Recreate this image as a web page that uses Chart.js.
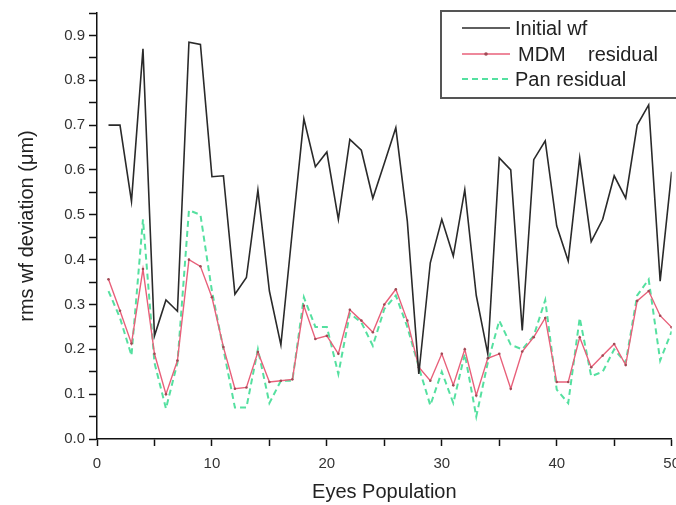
<!DOCTYPE html>
<html>
<head>
<meta charset="utf-8">
<script src="https://cdn.jsdelivr.net/npm/chart.js@4"></script>
<style>
  html, body { margin: 0; padding: 0; background: #fff; overflow: hidden; }
  #wrap { width: 676px; height: 505px; overflow: hidden; }
</style>
</head>
<body>
<div id="wrap"><canvas id="myChart" width="689" height="505"></canvas></div>
<script>
const eyes = [1,2,3,4,5,6,7,8,9,10,11,12,13,14,15,16,17,18,19,20,21,22,23,24,25,
              26,27,28,29,30,31,32,33,34,35,36,37,38,39,40,41,42,43,44,45,46,47,48,49,50];

const initialWf = [0.70,0.70,0.53,0.87,0.23,0.31,0.285,0.885,0.88,0.585,
                   0.587,0.323,0.36,0.555,0.33,0.21,0.465,0.714,0.607,0.64,
                   0.49,0.668,0.644,0.537,0.615,0.694,0.486,0.145,0.393,0.49,
                   0.408,0.556,0.32,0.19,0.627,0.60,0.242,0.623,0.665,0.475,
                   0.397,0.627,0.44,0.49,0.587,0.537,0.70,0.745,0.352,0.596];

const mdmResidual = [0.356,0.286,0.213,0.379,0.19,0.10,0.175,0.40,0.385,0.316,
                     0.205,0.112,0.115,0.194,0.127,0.13,0.133,0.297,0.223,0.23,
                     0.19,0.288,0.264,0.238,0.30,0.334,0.264,0.16,0.13,0.19,
                     0.12,0.20,0.097,0.18,0.19,0.112,0.195,0.227,0.27,0.127,
                     0.127,0.227,0.16,0.186,0.212,0.165,0.308,0.33,0.275,0.249];

const panResidual = [0.33,0.27,0.186,0.49,0.17,0.068,0.17,0.51,0.50,0.33,
                     0.20,0.07,0.07,0.20,0.08,0.13,0.13,0.316,0.25,0.25,
                     0.145,0.28,0.26,0.208,0.29,0.32,0.25,0.16,0.075,0.15,
                     0.08,0.19,0.05,0.17,0.264,0.21,0.20,0.23,0.31,0.11,
                     0.08,0.27,0.14,0.15,0.20,0.17,0.32,0.356,0.175,0.24];

const seriesNames = ['Initial wf', 'MDM    residual', 'Pan residual'];

function pts(vals){
    return eyes.map((e,i)=>({x:e, y:vals[i]}));
}

// boxed legend in the top right corner, drawn from the datasets
const boxLegend = {
    id: 'boxLegend',
    afterDraw(chart){
        const ctx = chart.ctx;
        const bx = 441, by = 11, bw = 250, bh = 87;
        ctx.save();
        ctx.fillStyle = '#fff';
        ctx.fillRect(bx, by, bw, bh);
        ctx.strokeStyle = '#555';
        ctx.lineWidth = 2;
        ctx.strokeRect(bx, by, bw, bh);
        const rows = [28, 54, 79];
        const textX = [515, 518, 515];
        chart.data.datasets.forEach((ds,i)=>{
            const y = rows[i];
            ctx.strokeStyle = ds.borderColor;
            ctx.lineWidth = ds.borderWidth;
            ctx.setLineDash(ds.borderDash || []);
            ctx.beginPath();
            ctx.moveTo(462, y);
            ctx.lineTo(510, y);
            ctx.stroke();
            ctx.setLineDash([]);
            if (ds.pointRadius > 0) {
                ctx.fillStyle = ds.pointBackgroundColor;
                ctx.beginPath();
                ctx.arc(486, y, ds.pointRadius + 0.5, 0, Math.PI*2);
                ctx.fill();
            }
            ctx.fillStyle = '#222';
            ctx.font = '20px "Liberation Sans", Arial, sans-serif';
            ctx.textBaseline = 'middle';
            ctx.fillText(ds.label, textX[i], y + 1);
        });
        ctx.restore();
    }
};

const ctx = document.getElementById('myChart').getContext('2d');
const myChart = new Chart(ctx, {
    type: 'line',
    data: {
        datasets: [{
            label: seriesNames[0],
            data: pts(initialWf),
            borderColor: '#2a2a2a',
            borderWidth: 1.6,
            pointRadius: 0,
            tension: 0
        },{
            label: seriesNames[1],
            data: pts(mdmResidual),
            borderColor: '#e8607a',
            borderWidth: 1.4,
            pointRadius: 1.3,
            pointBackgroundColor: '#a04a55',
            pointBorderWidth: 0,
            tension: 0
        },{
            label: seriesNames[2],
            data: pts(panResidual),
            borderColor: '#55e0a0',
            borderWidth: 2,
            borderDash: [6,4],
            pointRadius: 0,
            tension: 0
        }]
    },
    plugins: [boxLegend],
    options: {
        responsive: false,
        animation: false,
        layout: { padding: { top: 10, left: 0, right: 0, bottom: 0 } },
        plugins: { legend: { display: false }, tooltip: { enabled: false } },
        scales: {
            x: {
                type: 'linear',
                min: 0, max: 50,
                afterFit: s => { s.height = 66; },
                border: { color: '#111', width: 1.5 },
                grid: { drawOnChartArea: false, tickLength: 7, tickColor: '#111', tickWidth: 1.5 },
                ticks: {
                    stepSize: 5,
                    autoSkip: false,
                    maxRotation: 0,
                    padding: 9,
                    color: '#333',
                    font: { family: '"Liberation Sans", Arial, sans-serif', size: 15 },
                    callback: v => (v % 10 === 0 ? String(v) : '')
                },
                title: {
                    display: true,
                    text: 'Eyes Population',
                    color: '#222',
                    padding: { top: 0, bottom: 1 },
                    font: { family: '"Liberation Sans", Arial, sans-serif', size: 20 }
                }
            },
            y: {
                min: 0, max: 0.95,
                afterFit: s => { s.width = 97; },
                border: { color: '#111', width: 1.5 },
                grid: { drawOnChartArea: false, tickLength: 8, tickColor: '#111', tickWidth: 1.5 },
                ticks: {
                    stepSize: 0.05,
                    autoSkip: false,
                    padding: 4,
                    color: '#333',
                    font: { family: '"Liberation Sans", Arial, sans-serif', size: 15 },
                    callback: v => (Math.round(v*20) % 2 === 0 ? v.toFixed(1) : '')
                },
                title: {
                    display: true,
                    text: 'rms wf deviation (\u03bcm)',
                    color: '#222',
                    padding: { top: 15, bottom: 0 },
                    font: { family: '"Liberation Sans", Arial, sans-serif', size: 20 }
                }
            }
        }
    }
});
</script>
</body>
</html>
